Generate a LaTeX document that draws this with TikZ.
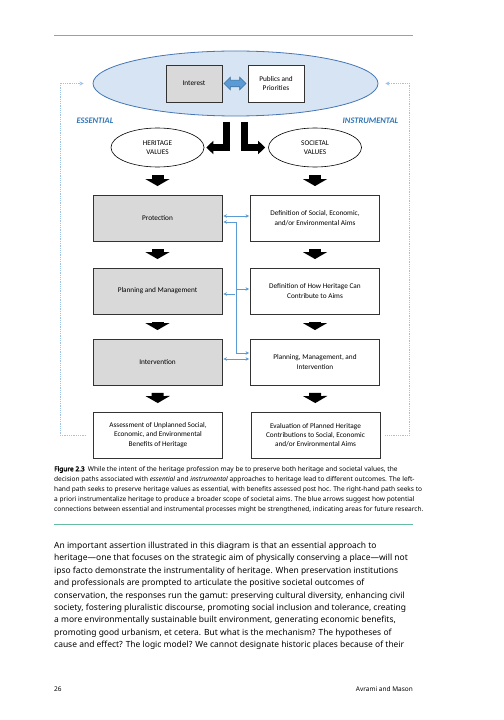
\documentclass[tikz,border=0pt]{standalone}
\usepackage{fontspec}
\setmainfont{Noto Sans}
\newfontfamily\chartfont{Carlito}
\newfontfamily\figlabel{Noto Sans}[FakeBold=2.2]
\usetikzlibrary{shapes.geometric,shapes.arrows,arrows.meta,calc}
\definecolor{rulegreen}{RGB}{102,187,164}
\definecolor{stakefill}{RGB}{214,228,243}
\definecolor{stakeline}{RGB}{70,118,180}
\definecolor{swapfill}{RGB}{91,155,213}
\definecolor{swapline}{RGB}{65,113,156}
\definecolor{linkblue}{RGB}{91,155,213}
\definecolor{loopblue}{RGB}{157,195,230}
\definecolor{labelblue}{RGB}{46,117,182}
\definecolor{boxgray}{RGB}{217,217,217}

\begin{document}
\begin{tikzpicture}[x=1bp,y=-1bp]
\tikzstyle{every node}=[font=\chartfont\fontsize{7.3}{9.3}\selectfont]
\tikzstyle{stepbox}=[draw=black!80,line width=0.9bp,fill=white,minimum width=129bp,minimum height=46bp,align=center,inner sep=2bp]
\tikzstyle{greybox}=[stepbox,fill=boxgray]
\tikzstyle{smallbox}=[stepbox,minimum width=56bp,minimum height=37bp]
\tikzstyle{value}=[draw,ellipse,line width=0.6bp,minimum width=93bp,minimum height=39bp,align=center,inner sep=0pt]
\tikzstyle{down}=[line width=12bp,-{Triangle[width=24bp,length=7bp]},shorten <=7.5bp,shorten >=8.5bp]
\tikzstyle{turn}=[line width=7bp,line join=miter,-{Triangle[width=13bp,length=7bp]}]
\tikzstyle{link}=[draw=linkblue,line width=0.6bp,shorten <=1bp,shorten >=1bp,>={Stealth[length=3.5bp,width=3.5bp]}]
\tikzstyle{feedback}=[draw=loopblue,line width=0.8bp,densely dotted,>={Stealth[length=4bp,width=4bp]}]
\tikzstyle{tag}=[font=\chartfont\bfseries\itshape\fontsize{8.5}{10}\selectfont,text=labelblue]
\tikzstyle{rule}=[draw=rulegreen,line width=1bp]
\useasboundingbox (0,0) rectangle (504,720);

\draw[rule] (54,36) -- (413,36);
\node[draw=stakeline,fill=stakefill,ellipse,line width=0.8bp,minimum width=285bp,minimum height=65bp] (stake) at (235.5,83.5) {};
\node[smallbox,fill=boxgray] (interest) at (194,83.5) {Interest};
\node[smallbox] (publics) at (276,83.5) {Publics and\\Priorities};
\node[draw=swapline,fill=swapfill,double arrow,line width=0.6bp,minimum height=22bp,minimum width=12bp,inner sep=0pt,inner ysep=3bp,double arrow head extend=3bp] (swap) at ($(interest.east)!0.5!(publics.west)$) {};

\node[tag] (essential) at (95,121) {ESSENTIAL};
\node[tag] (instrumental) at (370.5,121) {INSTRUMENTAL};

\node[value] (heritage) at (157.5,147.5) {HERITAGE\\VALUES};
\node[value] (societal) at (315,147.5) {SOCIETAL\\VALUES};
\coordinate (lstem) at (226.5,122);
\coordinate (rstem) at (244,122);
\draw[turn,shorten >=2bp] (lstem) |- (heritage.east);
\draw[turn,shorten >=3bp] (rstem) |- (societal.west);

\node[greybox] (prot) at (157.5,218) {Protection};
\node[stepbox] (def1) at (315,218) {Definition of Social, Economic,\\and/or Environmental Aims};
\node[greybox] (plan) at (157.5,291) {Planning and Management};
\node[stepbox] (def2) at (315,291) {Definition of How Heritage Can\\Contribute to Aims};
\node[greybox] (interv) at (157.5,362) {Intervention};
\node[stepbox] (pmi) at (315,362) {Planning, Management, and\\Intervention};
\node[stepbox] (assess) at (158,435) {Assessment of Unplanned Social,\\Economic, and Environmental\\Benefits of Heritage};
\node[stepbox] (eval) at (315.5,435) {Evaluation of Planned Heritage\\Contributions to Social, Economic\\and/or Environmental Aims};

\draw[down] (heritage) -- (prot);
\draw[down] (societal) -- (def1);
\draw[down] (prot) -- (plan);
\draw[down] (def1) -- (def2);
\draw[down] (plan) -- (interv);
\draw[down] (def2) -- (pmi);
\draw[down] (interv) -- (assess);
\draw[down] (pmi) -- (eval);

\coordinate (linkA) at ($(prot.east)+(0,-2)$);
\coordinate (linkB) at ($(interv.east)+(0,-3)$);
\coordinate (railtop) at (236,222);
\coordinate (railmid) at (236,289);
\coordinate (raillow) at (236,294);
\coordinate (railfoot) at (236,353);
\draw[link,<->] (linkA) -- (linkA -| def1.west);
\draw[link,<->] (linkB) -- (linkB -| pmi.west);
\draw[link,<->] (railtop -| prot.east) -- (railtop) -- (railfoot) -- (railfoot -| pmi.west);
\draw[link,->] (railmid) -- (railmid -| def2.west);
\draw[link,->] (raillow) -- (raillow -| plan.east);

\coordinate (lturn) at (60,83.5);
\coordinate (rturn) at (409.5,83.5);
\draw[feedback,->,shorten >=9bp] ([xshift=-7bp]assess.west) -| (lturn) -- (stake.west);
\draw[feedback,->,shorten >=7bp] ([xshift=5bp]eval.east) -| (rturn) -- (stake.east);

\node[anchor=north west,inner sep=0pt,align=left,font=\fontsize{6.6}{10}\selectfont] (caption) at (54,466) {{\figlabel Figure 2.3}\enspace While the intent of the heritage profession may be to preserve both heritage and societal values, the\\
decision paths associated with \textit{essential} and \textit{instrumental} approaches to heritage lead to different outcomes. The left-\\
hand path seeks to preserve heritage values as essential, with benefits assessed post hoc. The right-hand path seeks to\\
a priori instrumentalize heritage to produce a broader scope of societal aims. The blue arrows suggest how potential\\
connections between essential and instrumental processes might be strengthened, indicating areas for future research.};
\draw[rule] (54,524) -- (413,524);

\node[anchor=north west,inner sep=0pt,align=left,font=\fontsize{8.5}{12.4}\selectfont] (body) at (54,542) {An important assertion illustrated in this diagram is that an essential approach to\\
heritage---one that focuses on the strategic aim of physically conserving a place---will not\\
ipso facto demonstrate the instrumentality of heritage. When preservation institutions\\
and professionals are prompted to articulate the positive societal outcomes of\\
conservation, the responses run the gamut: preserving cultural diversity, enhancing civil\\
society, fostering pluralistic discourse, promoting social inclusion and tolerance, creating\\
a more environmentally sustainable built environment, generating economic benefits,\\
promoting good urbanism, et cetera. But what is the mechanism? The hypotheses of\\
cause and effect? The logic model? We cannot designate historic places because of their};

\node[anchor=base west,inner sep=0pt,font=\fontsize{6.5}{8}\selectfont] (folio) at (54,691) {26};
\node[anchor=base east,inner sep=0pt,font=\fontsize{6.5}{8}\selectfont] (running) at (413,691) {Avrami and Mason};
\end{tikzpicture}
\end{document}
